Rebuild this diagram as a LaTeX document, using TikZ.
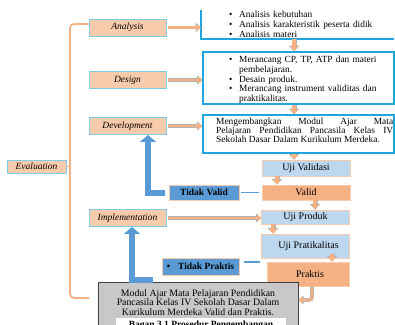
\documentclass[tikz,border=0pt]{standalone}
\usepackage{fontspec}
\setmainfont{Liberation Serif}
\usetikzlibrary{arrows.meta,positioning}
\definecolor{peach}{HTML}{F8CBAD}
\definecolor{orng}{HTML}{F4B183}
\definecolor{skyedge}{HTML}{7CCFEA}
\definecolor{cyanedge}{HTML}{1FA6DE}
\definecolor{paleblue}{HTML}{BDD7EE}
\definecolor{midblue}{HTML}{5B9BD5}
\definecolor{graybox}{HTML}{C8C8C8}
\newcommand{\itm}[1]{\par\hangindent=10pt\hangafter=1\noindent\makebox[10pt][l]{\textbullet}#1}

\begin{document}
\begin{tikzpicture}[x=1pt,y=-1pt,
  stage/.style={draw=skyedge,line width=0.9pt,fill=peach,minimum width=77pt,minimum height=17pt,inner sep=0pt,font=\fontsize{9.5}{10}\selectfont\itshape},
  listline/.style={draw=cyanedge,line width=1.6pt},
  listtext/.style={anchor=north west,inner sep=0pt,text width=165pt,align=left,font=\fontsize{9.4}{9.8}\selectfont},
  testbox/.style={fill=paleblue,draw=peach,line width=0.8pt,minimum width=88pt,inner sep=0pt,font=\fontsize{10}{10}\selectfont},
  okbox/.style={testbox,fill=orng},
  failbox/.style={fill=midblue,draw=peach,line width=0.8pt,inner sep=0pt,font=\fontsize{9.5}{10}\selectfont\bfseries},
  flow/.style={draw=orng,line width=2.2pt,-{Triangle[length=4pt,width=7pt]},
    preaction={draw=gray!60,line width=3.6pt,-{Triangle[length=5.2pt,width=8.8pt]}}},
  flowdown/.style={draw=orng,line width=3.6pt,-{Triangle[length=4.5pt,width=8pt]},
    preaction={draw=gray!60,line width=5pt,-{Triangle[length=5.5pt,width=10pt]}}},
  back/.style={draw=midblue,line width=6pt,-{Triangle[length=7pt,width=16pt]}},
  backline/.style={draw=midblue,line width=1.5pt},
  evaline/.style={draw=orng,line width=1.8pt}
]
\clip (0,0) rectangle (395,324);

% stages on the left
\node[stage] (ana) at (127.5,27.5) {Analysis};
\node[stage] (des) at (127.5,80) {Design};
\node[stage] (dev) at (127.5,126) {Development};
\node[stage] (imp) at (127.5,218) {Implementation};
\node[stage,minimum width=59pt,minimum height=13pt] (eva) at (36.5,166.5) {Evaluation};

\coordinate (spinetop) at (70,24);
\coordinate (spineend) at (89,298);
\draw[evaline,rounded corners=4pt] ([yshift=3.5pt]ana.west) -- (spinetop) -- (spinetop |- spineend) -- (spineend);
\draw[evaline] (eva.east) -- (eva.east -| spinetop);

% boxes on the right
\node[minimum width=193pt,minimum height=29pt,inner sep=0pt] (anabox) at (297.5,24.5) {};
\draw[listline] (anabox.north west) |- (anabox.south east);
\node[listtext] (anatext) at (229,8) {\itm{Analisis kebutuhan}\itm{Analisis karakteristik peserta didik}\itm{Analisis materi}\par};

\node[draw=cyanedge,line width=1.6pt,minimum width=191pt,minimum height=52pt,inner sep=0pt] (desbox) at (298.5,78) {};
\node[listtext] (destext) at (229,52.5) {\itm{Merancang CP, TP, ATP dan materi\newline pembelajaran.}\itm{Desain produk.}\itm{Merancang instrument validitas dan\newline praktikalitas.}\par};

\node[draw=cyanedge,line width=1.6pt,minimum width=191pt,minimum height=38pt,inner sep=0pt] (devbox) at (298.5,134) {};
\node[anchor=north west,inner sep=0pt,text width=177pt,align=justify,font=\fontsize{9.4}{8.9}\selectfont] (devtext) at (216,117.5)
  {Mengembangkan Modul Ajar Mata\linebreak Pelajaran Pendidikan Pancasila Kelas IV\linebreak Sekolah Dasar Dalam Kurikulum Merdeka.};

% tests
\node[testbox,minimum height=16pt] (ujival) at (306,168) {Uji Validasi};
\node[okbox,minimum height=15pt] (valid) at (306,192.5) {Valid};
\node[failbox,minimum width=70pt,minimum height=15pt] (tvalid) at (204,192.5) {Tidak Valid};
\node[testbox,minimum height=14pt] (ujiprod) at (305.5,217) {Uji Produk};
\node[testbox,minimum height=24pt] (ujiprak) at (305.5,246) {\hspace*{6pt}\raisebox{-2pt}{Uji Pratikalitas}};
\node[okbox,minimum width=82pt,minimum height=24pt] (praktis) at (308,274) {\hspace*{4pt}\raisebox{-2pt}{Praktis}};
\node[failbox,minimum width=77pt,minimum height=17pt] (tprak) at (200.5,266.5) {\textbullet\hspace{8pt}Tidak Praktis\hspace{4pt}};

\node[draw=black!75,line width=1pt,fill=graybox,minimum width=200pt,minimum height=50pt,inner sep=0pt] (modul) at (198,307) {};
\node[inner sep=0pt,align=center,font=\fontsize{9.8}{9.4}\selectfont] (modultext) at (198,302.5)
  {Modul Ajar Mata Pelajaran Pendidikan\\Pancasila Kelas IV Sekolah Dasar Dalam\\Kurikulum Merdeka Valid dan Praktis.};
\node[fill=white,minimum width=170pt,minimum height=14pt,inner sep=0pt,font=\fontsize{9.5}{9}\selectfont\bfseries] (bagan) at (201,325)
  {\raisebox{2pt}{Bagan 3.1 Prosedur Pengembangan}};

% arrows
\draw[flow] ([xshift=2pt]ana.east) -- (ana.east -| anabox.west);
\draw[flow] ([xshift=2pt]des.east) -- (des.east -| desbox.west);
\draw[flow] ([xshift=2pt]dev.east) -- (dev.east -| devbox.west);
\draw[flow] ([xshift=2pt]imp.east) -- (imp.east -| ujiprod.west);

\coordinate (col) at (294,0);
\draw[flowdown] (anabox.south -| col) -- (desbox.north -| col);
\draw[flowdown] (desbox.south -| col) -- (devbox.north -| col);
\draw[flowdown] (devbox.south -| col) -- (ujival.north -| col);
\coordinate (c2) at (277,0);
\draw[flowdown] (ujival.south -| c2) -- (valid.north -| c2);
\coordinate (c3) at (315,0);
\draw[flowdown] (valid.south -| c3) -- (ujiprod.north -| c3);
\coordinate (c4) at (273,0);
\draw[flowdown] (ujiprod.south -| c4) -- (ujiprak.north -| c4);
\coordinate (c5) at (332,254);
\draw[flowdown] (c5) -- (praktis.north -| c5);
\draw[flow,rounded corners=3pt] ([xshift=4pt]praktis.south) |- ([yshift=7pt]modul.east);

% back to development / implementation
\coordinate (tvfoot) at (165,193);
\draw[back] (tvfoot) -| ([xshift=20.5pt]dev.south);
\draw[backline] ([xshift=2pt]tvalid.east) -- ([xshift=-3pt]valid.west);
\coordinate (tpfoot) at (153,280);
\draw[back] (tpfoot) -| ([xshift=4.5pt]imp.south);
\draw[backline] ([shift={(5pt,4.5pt)}]tprak.east) -- ++(16,0);
\end{tikzpicture}
\end{document}
